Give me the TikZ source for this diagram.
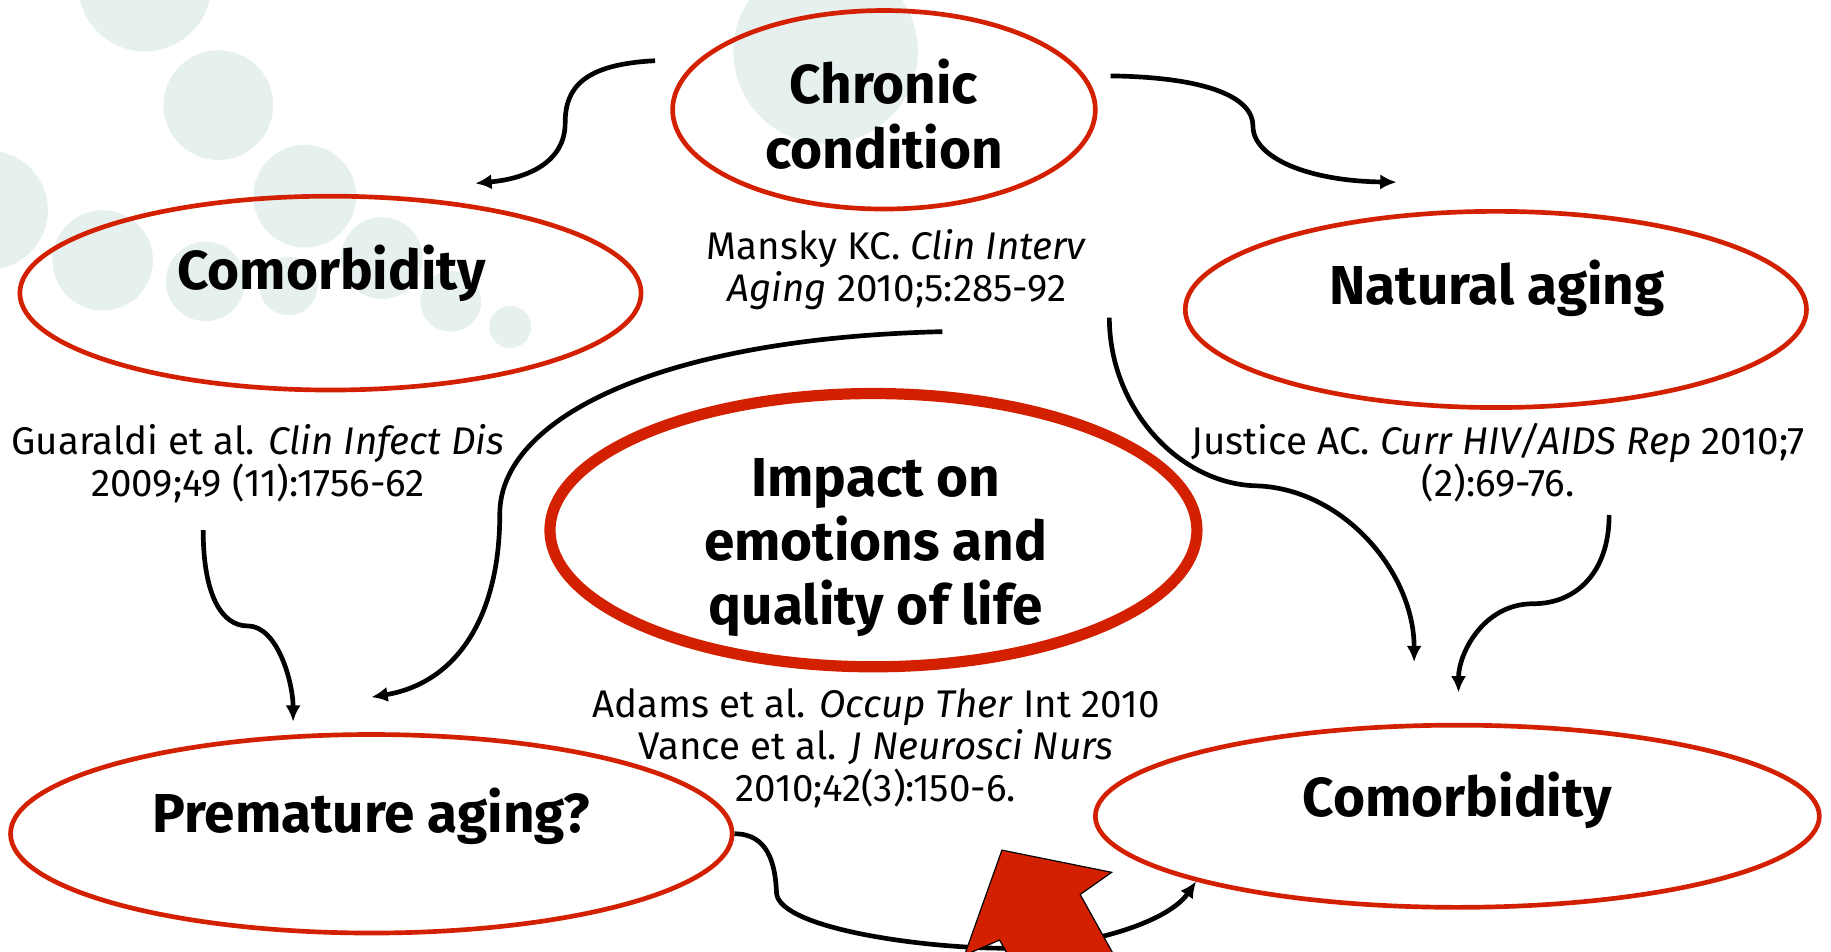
\documentclass[tikz,border=0pt]{standalone}
\usepackage{fontspec}
\setmainfont{Fira Sans}
\usetikzlibrary{arrows.meta}
\usetikzlibrary{shapes.geometric}

\definecolor{ringred}{RGB}{210,32,0}
\definecolor{dotgrey}{RGB}{230,240,239}

\tikzset{
  bubble/.style={ellipse, draw=ringred, line width=2pt, inner sep=0pt},
  heading/.style={align=center, inner sep=0.75pt, font=\bfseries\fontsize{23.5}{27.5}\selectfont},
  refnote/.style={align=center, inner sep=0.75pt, font=\fontsize{16.5}{18}\selectfont},
  link/.style={line width=2pt, -{Latex[length=7pt,width=6.5pt]}},
}

\begin{document}
\begin{tikzpicture}[x=0.5pt,y=0.5pt,yscale=-1,xscale=1]
\useasboundingbox (0,0) rectangle (1568,815);

%Shape: Circle
\fill [dotgrey] (124,-13) circle [radius=57];
%Shape: Circle
\fill [dotgrey] (187,90) circle [radius=47];
%Shape: Circle
\fill [dotgrey] (-10,180) circle [radius=51];
%Shape: Circle
\fill [dotgrey] (88,223) circle [radius=43];
%Shape: Circle
\fill [dotgrey] (261,168) circle [radius=44];
%Shape: Circle
\fill [dotgrey] (176,241) circle [radius=34];
%Shape: Circle
\fill [dotgrey] (247,245) circle [radius=25];
%Shape: Circle
\fill [dotgrey] (327,221) circle [radius=35];
%Shape: Circle
\fill [dotgrey] (386,258) circle [radius=26];
%Shape: Circle
\fill [dotgrey] (437,280) circle [radius=18];
%Shape: Circle
\fill [dotgrey] (707,44) circle [radius=79];

%Shape: Ellipse
\node [bubble, minimum width=181pt, minimum height=85pt] (chronic) at (757,94) {};
%Shape: Ellipse
\node [bubble, minimum width=266pt, minimum height=83pt] (como1) at (283,251) {};
%Shape: Ellipse
\node [bubble, minimum width=266pt, minimum height=84pt] (natural) at (1281,265) {};
%Shape: Ellipse
\node [bubble, line width=4.8pt, minimum width=277pt, minimum height=117pt] (impact) at (748,454) {};
%Shape: Ellipse
\node [bubble, minimum width=309pt, minimum height=85pt] (premature) at (318,714) {};
%Shape: Ellipse
\node [bubble, minimum width=310pt, minimum height=78pt] (como2) at (1248,699) {};

%Curve Lines
\coordinate (chronicW) at (561,52);
\coordinate (como1in) at (407,157);
\draw [link] (chronicW) .. controls (500,55) and (484,75) .. (484,105) .. controls (484,140) and (450,153) .. (como1in);
%Curve Lines
\coordinate (chronicE) at (951,65);
\coordinate (naturalin) at (1196,156);
\draw [link] (chronicE) .. controls (1030,66) and (1073,82) .. (1073,108) .. controls (1073,135) and (1120,155) .. (naturalin);
%Curve Lines
\coordinate (manskyL) at (807,284);
\coordinate (prematureinR) at (318,597);
\draw [link] (manskyL) .. controls (560,290) and (428,360) .. (428,440) .. controls (428,530) and (390,585) .. (prematureinR);
%Curve Lines
\coordinate (guaraldiS) at (174,454);
\coordinate (prematureinL) at (251,618);
\draw [link] (guaraldiS) .. controls (174,510) and (190,536) .. (212,536) .. controls (238,536) and (251,585) .. (prematureinL);
%Curve Lines
\coordinate (manskyR) at (950,272);
\coordinate (como2inL) at (1211,567);
\draw [link] (manskyR) .. controls (950,350) and (1010,414) .. (1075,416) .. controls (1150,418) and (1211,490) .. (como2inL);
%Curve Lines
\coordinate (justiceS) at (1378,441);
\coordinate (como2inR) at (1249,593);
\draw [link] (justiceS) .. controls (1378,490) and (1350,517) .. (1313,517) .. controls (1270,517) and (1249,560) .. (como2inR);
%Curve Lines
\draw [link] (premature.east) .. controls (658,714) and (664,740) .. (665,765) .. controls (668,795) and (790,812) .. (860,812) .. controls (930,812) and (1000,790) .. (como2.194);

%Shape: Block Arrow
\filldraw [fill=ringred, draw=black, line width=0.5pt] (858,728) -- (952,747) -- (925,766) -- (964,836) -- (875,839) -- (856,805) -- (826,818) -- cycle;

% Text Node
\node [heading, anchor=base] (chronictxt) at (757,144) {Chronic\\condition};
% Text Node
\node [heading, anchor=base] (como1txt) at (284,248) {Comorbidity};
% Text Node
\node [heading, anchor=base] (naturaltxt) at (1282,261) {Natural aging};
% Text Node
\node [heading, anchor=base] (impacttxt) at (750,535) {Impact on\\emotions and\\quality of life};
% Text Node
\node [heading, anchor=base] (prematuretxt) at (318,713) {Premature aging?};
% Text Node
\node [heading, anchor=base] (como2txt) at (1248,699) {Comorbidity};
% Text Node
\node [refnote, anchor=base] (mansky) at (768,258) {Mansky KC. \textit{Clin Interv}\\\textit{Aging} 2010;5:285-92};
% Text Node
\node [refnote, anchor=base] (guaraldi) at (221,425) {Guaraldi et al. \textit{Clin Infect Dis}\\2009;49 (11):1756-62};
% Text Node
\node [refnote, anchor=base] (justice) at (1283,425) {Justice AC. \textit{Curr HIV/AIDS Rep} 2010;7\\(2):69-76.};
% Text Node
\node [refnote, anchor=base] (adams) at (750,686) {Adams et al. \textit{Occup Ther} Int 2010\\Vance et al. \textit{J Neurosci Nurs}\\2010;42(3):150-6.};

\end{tikzpicture}
\end{document}
